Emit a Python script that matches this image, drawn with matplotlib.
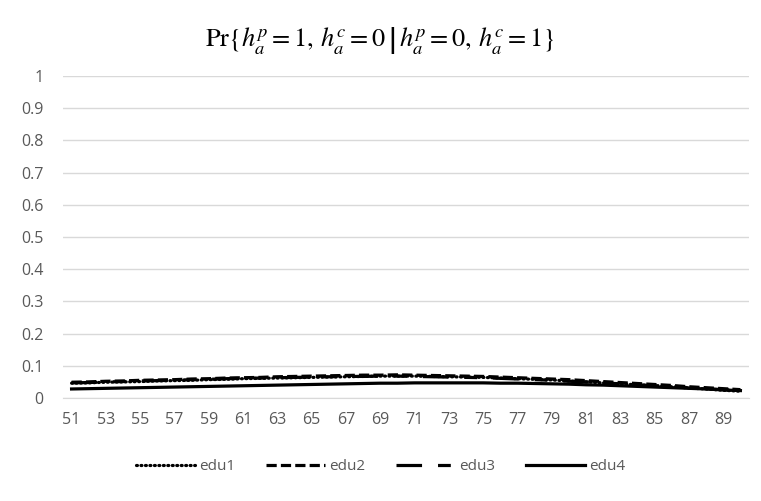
import matplotlib
matplotlib.use('Agg')
import matplotlib.pyplot as plt
import numpy as np

plt.rcParams.update({
    'font.family': 'Open Sans',
    'mathtext.fontset': 'stix',
})

# Data
ages = list(range(51, 91))
edu1 = [0.046, 0.047, 0.049, 0.050, 0.051, 0.053, 0.054, 0.055, 0.057, 0.058,
        0.060, 0.061, 0.062, 0.063, 0.064, 0.065, 0.066, 0.067, 0.068, 0.068,
        0.068, 0.067, 0.066, 0.065, 0.064, 0.062, 0.060, 0.058, 0.056, 0.053,
        0.050, 0.047, 0.044, 0.041, 0.038, 0.035, 0.031, 0.028, 0.024, 0.021]
edu2 = [0.049, 0.050, 0.052, 0.053, 0.055, 0.056, 0.057, 0.059, 0.060, 0.062,
        0.063, 0.064, 0.066, 0.067, 0.068, 0.069, 0.070, 0.071, 0.071, 0.072,
        0.071, 0.070, 0.069, 0.068, 0.067, 0.065, 0.063, 0.061, 0.059, 0.057,
        0.054, 0.051, 0.048, 0.045, 0.042, 0.039, 0.035, 0.032, 0.029, 0.026]
edu3 = [0.047, 0.048, 0.050, 0.051, 0.053, 0.054, 0.055, 0.057, 0.058, 0.060,
        0.061, 0.062, 0.063, 0.064, 0.065, 0.066, 0.067, 0.067, 0.068, 0.068,
        0.067, 0.066, 0.065, 0.064, 0.063, 0.061, 0.059, 0.057, 0.055, 0.052,
        0.050, 0.047, 0.044, 0.041, 0.038, 0.035, 0.032, 0.029, 0.026, 0.023]
edu4 = [0.028, 0.029, 0.030, 0.031, 0.032, 0.033, 0.034, 0.035, 0.036, 0.037,
        0.038, 0.039, 0.040, 0.041, 0.042, 0.043, 0.044, 0.045, 0.046, 0.046,
        0.047, 0.047, 0.047, 0.047, 0.047, 0.046, 0.046, 0.045, 0.044, 0.043,
        0.041, 0.040, 0.038, 0.036, 0.034, 0.032, 0.030, 0.028, 0.025, 0.023]
labels = ['edu1', 'edu2', 'edu3', 'edu4']

GRID = '#d9d9d9'
TXT = '#595959'

fig = plt.figure(figsize=(7.61, 5.01), dpi=100)
ax = fig.add_axes([63 / 761, 1 - 398 / 501, (749 - 63) / 761, (398 - 76) / 501])

x = np.arange(len(ages))
lw = 2.3
ax.plot(x, edu1, color='black', lw=lw, linestyle=(0, (0.3, 1.1)), dash_capstyle='round', label=labels[0])
ax.plot(x, edu2, color='black', lw=lw, linestyle=(0, (3.2, 1.3)), label=labels[1])
ax.plot(x, edu3, color='black', lw=lw, linestyle=(0, (8.0, 5.0, 4.0, 5.0)), label=labels[2])
ax.plot(x, edu4, color='black', lw=lw, linestyle='-', label=labels[3])

ax.set_xlim(-0.5, len(ages) - 0.5)
ax.set_ylim(0, 1)
ax.set_yticks(np.arange(0, 1.01, 0.1))
ax.set_yticklabels(['0'] + [f'{v:.1f}' for v in np.arange(0.1, 0.95, 0.1)] + ['1'])
ax.set_xticks(x[::2])
ax.set_xticklabels([str(a) for a in ages[::2]])
ax.tick_params(length=0, labelsize=11.5, colors=TXT, pad=10)
ax.tick_params(axis='y', pad=14)
ax.grid(True, axis='y', color=GRID, lw=1.0)
ax.set_axisbelow(True)
for s in ['top', 'right', 'left']:
    ax.spines[s].set_visible(False)
ax.spines['bottom'].set_color(GRID)

fig.text(0.5, 1 - 40 / 501,
         r'$\mathrm{Pr}\{h_a^p=1,\,h_a^c=0\,\left|\,h_a^p=0,\,h_a^c=1\right.\}$',
         ha='center', va='center', fontsize=19)

leg = fig.legend(loc='center', bbox_to_anchor=(0.5, 1 - 467 / 501), ncol=4, frameon=False,
                 handlelength=3.9, columnspacing=2.0, handletextpad=0.25, fontsize=11)
for t in leg.get_texts():
    t.set_color(TXT)

fig.savefig('out.png', dpi=100)
